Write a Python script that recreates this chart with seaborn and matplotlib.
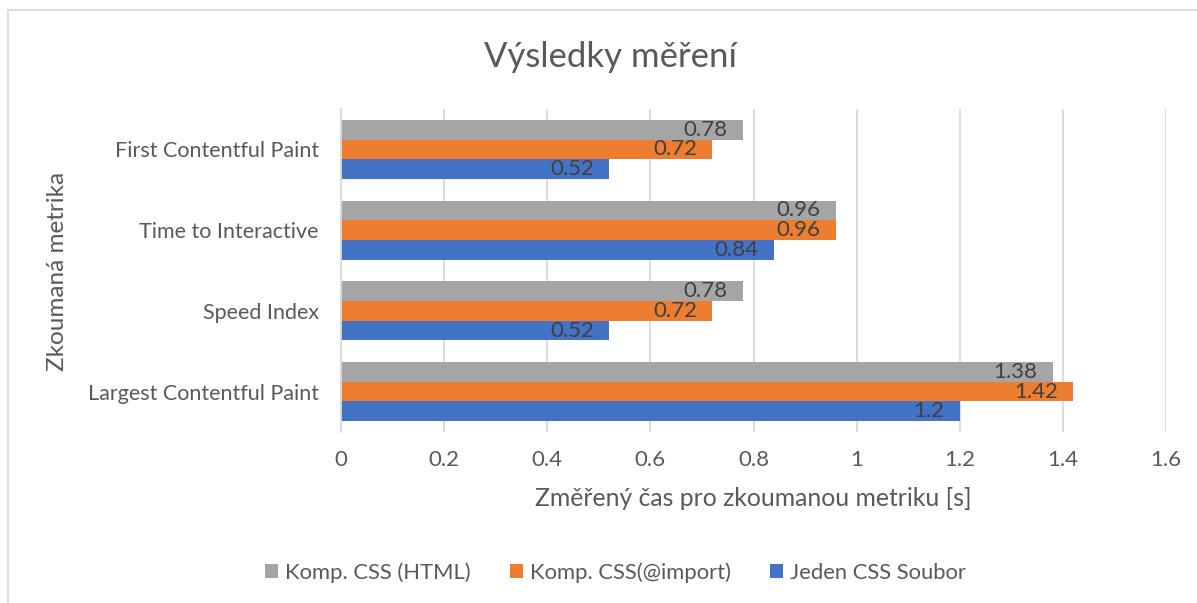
import pandas as pd
import matplotlib.pyplot as plt
import seaborn as sns
from matplotlib.patches import Rectangle

# data
metrics = ['First Contentful Paint', 'Time to Interactive', 'Speed Index', 'Largest Contentful Paint']
series = ['Komp. CSS (HTML)', 'Komp. CSS(@import)', 'Jeden CSS Soubor']
komp_html = [0.78, 0.96, 0.78, 1.38]
komp_import = [0.72, 0.96, 0.72, 1.42]
jeden_css = [0.52, 0.84, 0.52, 1.2]
colors = ['#A5A5A5', '#ED7D31', '#4472C4']
x_ticks = [0, 0.2, 0.4, 0.6, 0.8, 1, 1.2, 1.4, 1.6]

df = pd.DataFrame({
    'metrika': metrics * 3,
    'serie': [series[0]] * 4 + [series[1]] * 4 + [series[2]] * 4,
    'cas': komp_html + komp_import + jeden_css,
})

sns.set_style('white')
plt.rcParams['font.family'] = ['Lato', 'DejaVu Sans']
txt = '#595959'

fig = plt.figure(figsize=(11.97, 6.03), dpi=100)
ax = fig.add_axes([0.2849, 0.2836, 0.6892, 0.5357])

sns.barplot(data=df, y='metrika', x='cas', hue='serie', hue_order=series,
            order=metrics, palette=colors, orient='h', width=0.73,
            saturation=1, linewidth=0, ax=ax, legend=True)

# value labels inside the bar ends
for cont in ax.containers:
    for bar in cont:
        w = bar.get_width()
        ax.annotate(f'{w:g}', (w, bar.get_y() + bar.get_height() / 2),
                    xytext=(-11, 0), textcoords='offset points',
                    ha='right', va='center', fontsize=16, color='#404040')

ax.set_xlim(0, 1.6)
ax.set_ylim(3.5, -0.5)
ax.set_xticks(x_ticks)
ax.set_xticklabels([f'{t:g}' for t in x_ticks])
ax.xaxis.grid(True, color='#D9D9D9', linewidth=1.3)
ax.set_axisbelow(True)
for s in ['top', 'right', 'bottom']:
    ax.spines[s].set_visible(False)
ax.spines['left'].set_color('#D9D9D9')
ax.spines['left'].set_linewidth(1.3)
ax.tick_params(axis='x', length=0, labelsize=16, colors=txt, pad=13)
ax.tick_params(axis='y', length=0, labelsize=15.5, colors=txt, pad=16)

ax.set_xlabel('Změřený čas pro zkoumanou metriku [s]', fontsize=17.8, color=txt, labelpad=12)
ax.set_ylabel('')
fig.text(0.048, 0.55, 'Zkoumaná metrika', rotation=90, ha='center', va='center',
         fontsize=17.5, color=txt)
fig.text(0.51, 0.905, 'Výsledky měření', ha='center', va='center', fontsize=25, color=txt)

handles, labels = ax.get_legend_handles_labels()
ax.legend_.remove()
fig.legend(handles, labels, loc='center', bbox_to_anchor=(0.514, 0.051), ncol=3,
           frameon=False, fontsize=15.8, labelcolor=txt, handlelength=0.6,
           handleheight=0.6, handletextpad=0.3, columnspacing=1.8)

# chart area border (clipped at right and bottom like the reference)
fig.patches.append(Rectangle((8 / 1197, -0.1), 1.2, 1 - 10 / 603 + 0.1,
                             transform=fig.transFigure, fill=False,
                             edgecolor='#D9D9D9', linewidth=1.3))

fig.savefig('out.png', dpi=100, facecolor='white')
